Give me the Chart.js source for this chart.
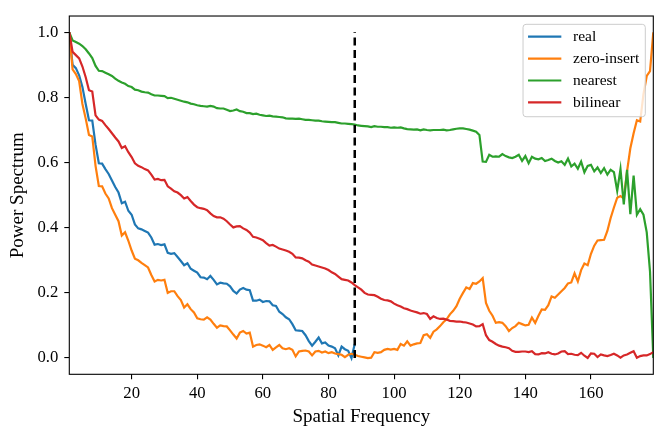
<!DOCTYPE html>
<html>
<head>
<meta charset="utf-8">
<script src="https://cdn.jsdelivr.net/npm/chart.js@4/dist/chart.umd.min.js"></script>
<style>
html,body{margin:0;padding:0;background:#fff;}
#wrap{width:665px;height:438px;position:relative;}
</style>
</head>
<body>
<div id="wrap"><canvas id="c"></canvas></div>
<script>
// ---- data ----
const seriesNames = ["real", "zero-insert", "nearest", "bilinear"];
const xTicks = [20, 40, 60, 80, 100, 120, 140, 160];
const yTicks = [0.0, 0.2, 0.4, 0.6, 0.8, 1.0];
const cutoffX = [88, 88];
const cutoffY = [0.0, 1.0];

const real = [1.0,0.9,0.89,0.868,0.832,0.78,0.73,0.729,0.655,0.598,
0.597,0.58,0.565,0.545,0.525,0.508,0.475,0.48,0.452,0.44,
0.41,0.398,0.395,0.39,0.385,0.37,0.348,0.35,0.347,0.349,
0.323,0.32,0.322,0.31,0.298,0.285,0.291,0.274,0.268,0.262,
0.248,0.247,0.242,0.252,0.24,0.226,0.231,0.229,0.228,0.22,
0.206,0.198,0.21,0.215,0.21,0.208,0.176,0.176,0.179,0.172,
0.175,0.174,0.162,0.16,0.142,0.135,0.125,0.119,0.104,0.085,
0.084,0.083,0.07,0.052,0.038,0.05,0.063,0.045,0.048,0.038,
0.035,0.03,0.008,0.035,0.027,0.022,0.0,0.043];

const zeroInsert = [1.0,0.886,0.872,0.85,0.78,0.735,0.685,0.68,0.59,0.528,
0.527,0.505,0.49,0.46,0.44,0.42,0.376,0.386,0.36,0.33,
0.305,0.3,0.292,0.285,0.278,0.255,0.235,0.24,0.238,0.24,
0.2,0.205,0.205,0.19,0.178,0.155,0.165,0.15,0.14,0.122,
0.119,0.118,0.125,0.118,0.105,0.093,0.1,0.098,0.097,0.085,
0.072,0.06,0.078,0.083,0.075,0.078,0.035,0.04,0.042,0.038,
0.033,0.04,0.025,0.033,0.04,0.03,0.027,0.03,0.025,0.005,
0.02,0.022,0.023,0.02,0.008,0.02,0.022,0.017,0.02,0.015,
0.018,0.014,0.012,0.01,0.003,0.01,0.013,0.01,0.006,0.004,
0.002,0.0,0.001,0.018,0.016,0.018,0.025,0.028,0.026,0.028,
0.025,0.043,0.038,0.051,0.038,0.042,0.045,0.046,0.07,0.073,
0.062,0.081,0.088,0.098,0.11,0.119,0.134,0.145,0.159,0.182,
0.2,0.217,0.212,0.23,0.228,0.235,0.245,0.169,0.145,0.13,
0.108,0.11,0.108,0.098,0.083,0.092,0.098,0.108,0.104,0.1,
0.102,0.124,0.108,0.13,0.149,0.148,0.162,0.189,0.185,0.195,
0.205,0.215,0.229,0.232,0.26,0.235,0.27,0.29,0.285,0.32,
0.345,0.361,0.362,0.363,0.39,0.43,0.462,0.492,0.497,0.49,
0.573,0.644,0.69,0.73,0.726,0.81,0.866,0.881,1.0];

const nearest = [1.0,0.975,0.97,0.965,0.958,0.948,0.935,0.921,0.897,0.882,
0.881,0.876,0.871,0.866,0.858,0.851,0.846,0.842,0.835,0.832,
0.824,0.822,0.818,0.816,0.815,0.81,0.806,0.806,0.805,0.804,
0.798,0.799,0.796,0.793,0.79,0.787,0.785,0.781,0.779,0.776,
0.774,0.773,0.772,0.774,0.772,0.767,0.766,0.766,0.762,0.758,
0.76,0.763,0.758,0.756,0.752,0.752,0.749,0.75,0.747,0.745,
0.743,0.744,0.742,0.741,0.74,0.739,0.736,0.735,0.735,0.734,
0.735,0.733,0.731,0.731,0.73,0.729,0.729,0.727,0.726,0.725,
0.724,0.724,0.722,0.72,0.72,0.719,0.718,0.717,0.714,0.713,
0.712,0.711,0.709,0.712,0.71,0.71,0.709,0.709,0.707,0.708,
0.707,0.708,0.705,0.703,0.702,0.701,0.702,0.699,0.702,0.7,
0.699,0.7,0.7,0.7,0.701,0.699,0.7,0.702,0.704,0.705,
0.705,0.703,0.701,0.698,0.695,0.685,0.603,0.602,0.624,0.618,
0.619,0.618,0.626,0.62,0.616,0.614,0.618,0.624,0.605,0.62,
0.598,0.618,0.612,0.61,0.614,0.605,0.608,0.612,0.605,0.6,
0.604,0.593,0.612,0.588,0.597,0.581,0.603,0.57,0.59,0.593,
0.573,0.585,0.568,0.583,0.563,0.578,0.571,0.513,0.58,0.472,
0.578,0.442,0.56,0.44,0.457,0.44,0.386,0.265,0.0];

const bilinear = [1.0,0.94,0.93,0.92,0.895,0.862,0.822,0.818,0.745,0.732,
0.728,0.715,0.703,0.69,0.677,0.665,0.645,0.65,0.632,0.617,
0.598,0.59,0.586,0.58,0.576,0.563,0.548,0.55,0.546,0.547,
0.527,0.52,0.512,0.508,0.5,0.49,0.494,0.482,0.471,0.463,
0.46,0.458,0.454,0.444,0.436,0.432,0.432,0.428,0.42,0.41,
0.401,0.404,0.405,0.398,0.393,0.385,0.372,0.37,0.366,0.362,
0.353,0.345,0.347,0.342,0.336,0.333,0.33,0.326,0.32,0.309,
0.308,0.306,0.3,0.296,0.287,0.284,0.281,0.278,0.275,0.27,
0.263,0.258,0.25,0.242,0.24,0.238,0.232,0.224,0.217,0.21,
0.2,0.195,0.194,0.193,0.188,0.182,0.178,0.177,0.174,0.167,
0.162,0.158,0.153,0.15,0.146,0.143,0.14,0.136,0.138,0.135,
0.12,0.128,0.123,0.12,0.121,0.118,0.114,0.113,0.112,0.112,
0.11,0.109,0.106,0.103,0.097,0.098,0.104,0.07,0.055,0.05,
0.043,0.038,0.035,0.033,0.03,0.022,0.019,0.019,0.02,0.02,
0.018,0.021,0.012,0.011,0.015,0.014,0.018,0.013,0.011,0.014,
0.02,0.021,0.012,0.013,0.01,0.009,0.016,0.007,0.0,0.014,
0.013,0.003,0.011,0.008,0.006,0.009,0.013,0.008,0.001,0.008,
0.011,0.016,0.021,0.001,0.006,0.008,0.008,0.012,0.018];

// ---- build ----
const colors = ["#1f77b4", "#ff7f0e", "#2ca02c", "#d62728"];
const allSeries = [real, zeroInsert, nearest, bilinear];
const toPts = arr => arr.map((v, i) => ({x: i + 1, y: v}));
const SERIF = '"Liberation Serif", "Times New Roman", "DejaVu Serif", serif';

const datasets = allSeries.map((s, k) => ({
  label: seriesNames[k],
  data: toPts(s),
  borderColor: colors[k],
  backgroundColor: colors[k],
  borderWidth: 2.2,
  pointRadius: 0,
  tension: 0,
  fill: false,
  order: 4 - k
}));
datasets.push({
  label: "_cutoff",
  data: cutoffX.map((x, i) => ({x: x, y: cutoffY[i]})),
  borderColor: "#000",
  borderWidth: 2.5,
  borderDash: [8, 4.5],
  pointRadius: 0,
  fill: false,
  order: 0
});

const framePlugin = {
  id: "frameLegend",
  afterDraw(chart) {
    const ctx = chart.ctx, ca = chart.chartArea;
    ctx.save();
    ctx.strokeStyle = "#000";
    ctx.lineWidth = 1.1;
    ctx.strokeRect(ca.left, ca.top, ca.right - ca.left, ca.bottom - ca.top);
    // legend
    ctx.font = "15.5px " + SERIF;
    let tw = 0;
    seriesNames.forEach(n => { tw = Math.max(tw, ctx.measureText(n).width); });
    const padL = 5, hLen = 33.3, gap = 11.7, padR = 6;
    const w = padL + hLen + gap + tw + padR;
    const h = 92.4;
    const right = ca.right - 8;
    const left = right - w;
    const top = ca.top + 8.3;
    const r = 3;
    ctx.beginPath();
    ctx.moveTo(left + r, top);
    ctx.lineTo(left + w - r, top);
    ctx.quadraticCurveTo(left + w, top, left + w, top + r);
    ctx.lineTo(left + w, top + h - r);
    ctx.quadraticCurveTo(left + w, top + h, left + w - r, top + h);
    ctx.lineTo(left + r, top + h);
    ctx.quadraticCurveTo(left, top + h, left, top + h - r);
    ctx.lineTo(left, top + r);
    ctx.quadraticCurveTo(left, top, left + r, top);
    ctx.closePath();
    ctx.fillStyle = "rgba(255,255,255,0.8)";
    ctx.fill();
    ctx.strokeStyle = "#cccccc";
    ctx.lineWidth = 1;
    ctx.stroke();
    seriesNames.forEach((n, k) => {
      const y = top + 12.4 + k * 21.9;
      ctx.strokeStyle = colors[k];
      ctx.lineWidth = 2.2;
      ctx.beginPath();
      ctx.moveTo(left + padL, y);
      ctx.lineTo(left + padL + hLen, y);
      ctx.stroke();
      ctx.fillStyle = "#000";
      ctx.textBaseline = "middle";
      ctx.textAlign = "left";
      ctx.fillText(n, left + padL + hLen + gap, y + 0.5);
    });
    ctx.restore();
  }
};

Chart.defaults.font.family = SERIF;
Chart.defaults.color = "#000";

new Chart(document.getElementById("c"), {
  type: "line",
  data: {datasets},
  options: {
    responsive: true,
    maintainAspectRatio: false,
    animation: false,
    layout: {padding: {left: 0, right: 11.7, top: 11, bottom: 0}},
    plugins: {legend: {display: false}, tooltip: {enabled: false}},
    scales: {
      x: {
        type: "linear",
        min: 1,
        max: 179,
        afterBuildTicks: s => { s.ticks = xTicks.map(v => ({value: v})); },
        afterFit: s => { s.height = 63.7; },
        ticks: {font: {size: 16.7}, padding: 4, maxRotation: 0, color: "#000"},
        grid: {drawOnChartArea: false, drawTicks: true, tickLength: 5, color: "#000", lineWidth: 1.1},
        border: {display: false},
        title: {display: true, text: "Spatial Frequency", font: {size: 19}, padding: {top: 0, bottom: 10}, color: "#000"}
      },
      y: {
        type: "linear",
        min: -0.05,
        max: 1.05,
        afterBuildTicks: s => { s.ticks = yTicks.map(v => ({value: v})); },
        afterFit: s => { s.width = 69.3; },
        ticks: {font: {size: 16.7}, padding: 6, color: "#000", callback: v => v.toFixed(1)},
        grid: {drawOnChartArea: false, drawTicks: true, tickLength: 5, color: "#000", lineWidth: 1.1},
        border: {display: false},
        title: {display: true, text: "Power Spectrum", font: {size: 19}, padding: {top: 6.3, bottom: 0}, color: "#000"}
      }
    }
  },
  plugins: [framePlugin]
});
</script>
</body>
</html>
